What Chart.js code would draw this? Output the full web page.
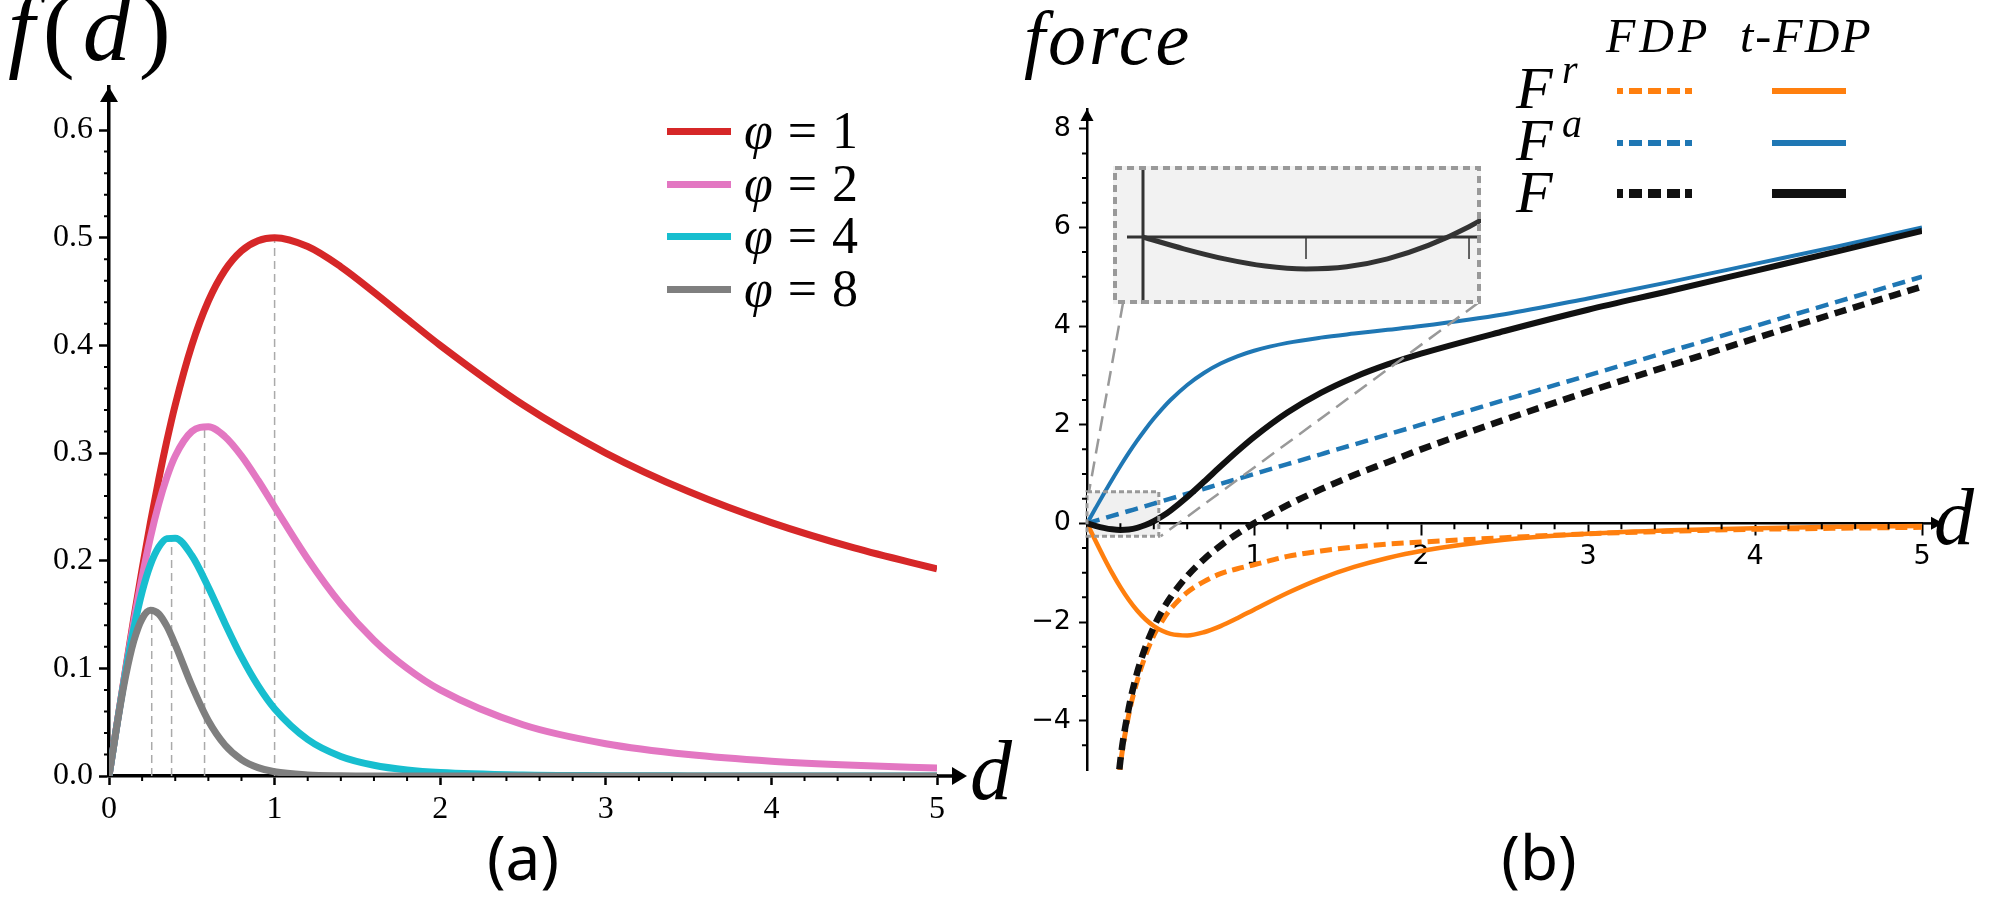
<!DOCTYPE html>
<html>
<head>
<meta charset="utf-8">
<script src="https://cdn.jsdelivr.net/npm/chart.js@4.4.1/dist/chart.umd.min.js"></script>
<style>
  html, body { margin: 0; padding: 0; background: #fff; }
  body { position: relative; width: 2011px; height: 902px; overflow: hidden; }
  canvas { position: absolute; }
  .txt { position: absolute; white-space: nowrap; line-height: 1; color: #000; }
  .serif { font-family: "Liberation Serif", "DejaVu Serif", serif; }
  .sans { font-family: "Noto Sans", "DejaVu Sans", sans-serif; }
  .sw { position: absolute; }
</style>
</head>
<body>
<canvas id="chartA" width="1000" height="902" style="left:0;top:0"></canvas>
<canvas id="chartB" width="1011" height="902" style="left:1000px;top:0"></canvas>
<canvas id="inset" width="368" height="138" style="left:1113px;top:166px"></canvas>

<!-- panel (a) text -->
<div class="txt serif" style="left:8px;top:-20px;font-size:96px;letter-spacing:8px"><i>f</i>(<i>d</i>)</div>
<div class="txt serif" style="left:970px;top:729px;font-size:84px"><i>d</i></div>
<div class="sw" style="left:667px;top:128px;width:64px;height:7px;background:#d62728"></div>
<div class="sw" style="left:667px;top:181px;width:64px;height:7px;background:#e377c2"></div>
<div class="sw" style="left:667px;top:233px;width:64px;height:7px;background:#17becf"></div>
<div class="sw" style="left:667px;top:286px;width:64px;height:7px;background:#7f7f7f"></div>
<div class="txt serif" style="left:744px;top:105px;font-size:52px;word-spacing:2px"><i>φ</i> = 1</div>
<div class="txt serif" style="left:744px;top:158px;font-size:52px;word-spacing:2px"><i>φ</i> = 2</div>
<div class="txt serif" style="left:744px;top:210px;font-size:52px;word-spacing:2px"><i>φ</i> = 4</div>
<div class="txt serif" style="left:744px;top:263px;font-size:52px;word-spacing:2px"><i>φ</i> = 8</div>
<div class="txt sans" style="left:523px;top:825px;font-size:62px;transform:translateX(-50%)">(a)</div>

<!-- panel (b) text -->
<div class="txt serif" style="left:1024px;top:0px;font-size:76px;letter-spacing:3px"><i>force</i></div>
<div class="txt serif" style="left:1934px;top:477px;font-size:80px"><i>d</i></div>
<div class="txt serif" style="left:1606px;top:12px;font-size:48px;letter-spacing:4px"><i>FDP</i></div>
<div class="txt serif" style="left:1740px;top:12px;font-size:48px;letter-spacing:2px"><i>t</i>-<i>FDP</i></div>
<div class="txt serif" style="left:1516px;top:58px;font-size:60px"><i>F</i></div>
<div class="txt serif" style="left:1562px;top:50px;font-size:40px"><i>r</i></div>
<div class="txt serif" style="left:1516px;top:110px;font-size:60px"><i>F</i></div>
<div class="txt serif" style="left:1562px;top:104px;font-size:40px"><i>a</i></div>
<div class="txt serif" style="left:1516px;top:162px;font-size:60px"><i>F</i></div>
<div class="sw" style="left:1617px;top:88px;width:75px;height:6px;background:repeating-linear-gradient(90deg,#ff7f0e 0 13px,transparent 13px 19px);background-position:-7px 0"></div>
<div class="sw" style="left:1617px;top:140px;width:75px;height:6px;background:repeating-linear-gradient(90deg,#1f77b4 0 13px,transparent 13px 19px);background-position:-7px 0"></div>
<div class="sw" style="left:1617px;top:189px;width:75px;height:9px;background:repeating-linear-gradient(90deg,#111 0 13px,transparent 13px 19px);background-position:-7px 0"></div>
<div class="sw" style="left:1772px;top:88px;width:74px;height:6px;background:#ff7f0e"></div>
<div class="sw" style="left:1772px;top:140px;width:74px;height:6px;background:#1f77b4"></div>
<div class="sw" style="left:1772px;top:189px;width:74px;height:9px;background:#111"></div>
<div class="txt sans" style="left:1539px;top:825px;font-size:62px;transform:translateX(-50%)">(b)</div>

<script>
// ---- panel (a): f(d) for several phi ----
const dA = [0, 0.05, 0.1, 0.15, 0.2, 0.25, 0.3, 0.35, 0.4, 0.5, 0.6, 0.7, 0.8, 0.9, 1.0,
  1.2, 1.4, 1.6, 1.8, 2.0, 2.5, 3.0, 3.5, 4.0, 4.5, 5.0];
const phi1 = [0, 0.0499, 0.0990, 0.1467, 0.1923, 0.2353, 0.2752, 0.3118, 0.3448, 0.4, 0.4412, 0.4698, 0.4878, 0.4972, 0.5,
  0.4918, 0.4730, 0.4494, 0.4245, 0.4, 0.3448, 0.3, 0.2642, 0.2353, 0.2118, 0.1923];
const phi2 = [0, 0.0498, 0.0980, 0.1435, 0.1849, 0.2215, 0.2525, 0.2778, 0.2973, 0.32, 0.3244, 0.3153, 0.2974, 0.2747, 0.25,
  0.2016, 0.1598, 0.1262, 0.1001, 0.08, 0.0476, 0.03, 0.0199, 0.0138, 0.0100, 0.0074];
const phi4 = [0, 0.0495, 0.0961, 0.1372, 0.1710, 0.1962, 0.2125, 0.2205, 0.2209, 0.2048, 0.1754, 0.1420, 0.1106, 0.0839, 0.0625,
  0.0339, 0.0182, 0.0100, 0.0056, 0.0032, 0.0009, 0.0003, 0.0001, 0, 0, 0];
const phi8 = [0, 0.0490, 0.0923, 0.1255, 0.1461, 0.1539, 0.1506, 0.1389, 0.1220, 0.0839, 0.0513, 0.0288, 0.0153, 0.0078, 0.0039,
  0.0010, 0.0002, 0, 0, 0, 0, 0, 0, 0, 0, 0];
const peakD = [1.0, 0.577, 0.378, 0.258];
const peakF = [0.5, 0.325, 0.222, 0.154];
const xTicksA = [0, 1, 2, 3, 4, 5];
const yTicksA = [0, 0.1, 0.2, 0.3, 0.4, 0.5, 0.6];

// ---- panel (b): forces ----
const dB = [0, 0.05, 0.1, 0.15, 0.2, 0.25, 0.3, 0.35, 0.4, 0.45, 0.5, 0.6, 0.7, 0.8, 0.9, 1.0,
  1.2, 1.4, 1.6, 1.8, 2.0, 2.5, 3.0, 3.5, 4.0, 4.5, 5.0];
// t-FDP
const attrT = [0, 0.299, 0.595, 0.884, 1.162, 1.427, 1.676, 1.909, 2.124, 2.321, 2.5, 2.806, 3.049, 3.239, 3.386, 3.5,
  3.659, 3.765, 3.847, 3.923, 4.0, 4.24, 4.56, 4.9, 5.26, 5.62, 6.0];
const repT = [0, -0.348, -0.686, -1.004, -1.294, -1.550, -1.768, -1.944, -2.081, -2.178, -2.24, -2.271, -2.207, -2.082, -1.923, -1.75,
  -1.411, -1.119, -0.884, -0.701, -0.56, -0.333, -0.21, -0.14, -0.097, -0.07, -0.052];
const totT = [0, -0.049, -0.091, -0.121, -0.133, -0.124, -0.091, -0.035, 0.043, 0.143, 0.26, 0.535, 0.842, 1.157, 1.463, 1.75,
  2.248, 2.646, 2.964, 3.222, 3.44, 3.9, 4.33, 4.72, 5.12, 5.52, 5.93];
// FDP
const attrF = [0, 0.05, 0.1, 0.15, 0.2, 0.25, 0.3, 0.35, 0.4, 0.45, 0.5, 0.6, 0.7, 0.8, 0.9, 1.0,
  1.2, 1.4, 1.6, 1.8, 2.0, 2.5, 3.0, 3.5, 4.0, 4.5, 5.0];
const repF = [null, null, null, -6.6, -4.9, -3.88, -3.2, -2.68, -2.27, -1.98, -1.74, -1.4, -1.18, -1.02, -0.92, -0.84,
  -0.67, -0.56, -0.48, -0.42, -0.38, -0.29, -0.21, -0.16, -0.12, -0.1, -0.08];
const totF = [null, null, null, -6.52, -4.8, -3.75, -3.03, -2.51, -2.1, -1.77, -1.5, -1.07, -0.73, -0.45, -0.21, 0,
  0.37, 0.69, 0.98, 1.24, 1.5, 2.1, 2.67, 3.21, 3.75, 4.28, 4.8];
const xTicksB = [1, 2, 3, 4, 5];
const yTicksB = [-4, -2, 0, 2, 4, 6, 8];
const zoomBox = { x0: 0, x1: 0.43, y0: -0.26, y1: 0.64 };
const insetTicks = [0.2, 0.4];
const insetPos = { left: 1113, top: 166, width: 368, height: 138 };
const offB = 1000;

const serifFont = "'Liberation Serif', 'Times New Roman', serif";
const sansFont = "'DejaVu Sans', sans-serif";

const pts = (xs, ys) => xs.map((x, i) => ({ x, y: ys[i] }));

function peakLines() {
  const out = [];
  peakD.forEach((d, i) => { out.push({ x: d, y: 0 }, { x: d, y: peakF[i] }, { x: d, y: null }); });
  return out;
}

function arrow(ctx, x, y, dir, len, wid) {
  ctx.beginPath();
  if (dir === 'up') {
    ctx.moveTo(x, y); ctx.lineTo(x - wid / 2, y + len); ctx.lineTo(x + wid / 2, y + len);
  } else {
    ctx.moveTo(x, y); ctx.lineTo(x - len, y - wid / 2); ctx.lineTo(x - len, y + wid / 2);
  }
  ctx.closePath();
  ctx.fill();
}

const fixTicks = arr => s => { s.ticks = arr.map(v => ({ value: v })); };

const axesA = {
  id: 'axesA',
  afterDraw(chart) {
    const { ctx, chartArea: a, scales: { x, y } } = chart;
    ctx.save();
    ctx.strokeStyle = '#000';
    ctx.fillStyle = '#000';
    ctx.lineWidth = 2;
    ctx.beginPath();
    for (let k = 1; k < 30; k++) {
      if (k % 5 === 0) continue;
      const py = y.getPixelForValue(k * 0.02);
      ctx.moveTo(a.left - 5, py); ctx.lineTo(a.left, py);
    }
    for (let k = 1; k < 25; k++) {
      if (k % 5 === 0) continue;
      const px = x.getPixelForValue(k * 0.2);
      ctx.moveTo(px, a.bottom); ctx.lineTo(px, a.bottom + 5);
    }
    ctx.stroke();
    ctx.lineWidth = 3.5;
    ctx.beginPath();
    ctx.moveTo(a.right, a.bottom); ctx.lineTo(a.right + 18, a.bottom);
    ctx.stroke();
    arrow(ctx, a.right + 30, a.bottom, 'right', 15, 18);
    arrow(ctx, a.left, a.top, 'up', 15, 18);
    ctx.restore();
  }
};

const axesB = {
  id: 'axesB',
  beforeDatasetsDraw(chart) {
    const { ctx, scales: { x, y } } = chart;
    const l = x.getPixelForValue(zoomBox.x0), r = x.getPixelForValue(zoomBox.x1);
    const t = y.getPixelForValue(zoomBox.y1), b = y.getPixelForValue(zoomBox.y0);
    ctx.save();
    ctx.fillStyle = '#f0f0f0';
    ctx.fillRect(l, t, r - l, b - t);
    ctx.restore();
  },
  afterDatasetsDraw(chart) {
    const { ctx, scales: { x, y } } = chart;
    const l = x.getPixelForValue(zoomBox.x0), r = x.getPixelForValue(zoomBox.x1);
    const t = y.getPixelForValue(zoomBox.y1), b = y.getPixelForValue(zoomBox.y0);
    ctx.save();
    ctx.strokeStyle = '#999';
    ctx.lineWidth = 3;
    ctx.setLineDash([5, 3]);
    ctx.strokeRect(l, t, r - l, b - t);
    // connectors to the inset
    const ib = insetPos.top + insetPos.height - 1;
    ctx.lineWidth = 2.5;
    ctx.setLineDash([15, 8]);
    ctx.beginPath();
    ctx.moveTo(insetPos.left + 10 - offB, ib); ctx.lineTo(l + 2, t);
    ctx.moveTo(insetPos.left + insetPos.width - 3 - offB, ib); ctx.lineTo(r + 2, b);
    ctx.stroke();
    ctx.restore();
  },
  afterDraw(chart) {
    const { ctx, chartArea: a, scales: { x, y } } = chart;
    const y0 = y.getPixelForValue(0);
    ctx.save();
    ctx.strokeStyle = '#000';
    ctx.fillStyle = '#000';
    ctx.lineWidth = 2;
    ctx.beginPath();
    for (let k = -9; k < 17; k++) {
      if (k % 4 === 0) continue;
      const py = y.getPixelForValue(k * 0.5);
      ctx.moveTo(a.left - 5, py); ctx.lineTo(a.left, py);
    }
    for (let k = 1; k < 25; k++) {
      if (k % 5 === 0) continue;
      const px = x.getPixelForValue(k * 0.2);
      ctx.moveTo(px, y0); ctx.lineTo(px, y0 + 6);
    }
    ctx.stroke();
    ctx.lineWidth = 2.5;
    ctx.beginPath();
    ctx.moveTo(a.right, y0); ctx.lineTo(a.right + 12, y0);
    ctx.stroke();
    arrow(ctx, a.right + 21, y0, 'right', 12, 13);
    arrow(ctx, a.left, a.top, 'up', 12, 13);
    ctx.restore();
  }
};

const insetDeco = {
  id: 'insetDeco',
  beforeDraw(chart) {
    const { ctx, width, height } = chart;
    ctx.save();
    ctx.fillStyle = '#f2f2f2';
    ctx.fillRect(0, 0, width, height);
    ctx.restore();
  },
  beforeDatasetsDraw(chart) {
    const { ctx, width, height, scales: { x, y } } = chart;
    const px0 = x.getPixelForValue(0), py0 = y.getPixelForValue(0);
    ctx.save();
    ctx.strokeStyle = '#333';
    ctx.lineWidth = 3;
    ctx.beginPath();
    ctx.moveTo(px0, 0); ctx.lineTo(px0, height);
    ctx.moveTo(px0 - 16, py0); ctx.lineTo(width, py0);
    ctx.stroke();
    ctx.lineWidth = 1.5;
    ctx.beginPath();
    insetTicks.forEach(v => {
      const px = x.getPixelForValue(v);
      ctx.moveTo(px, py0); ctx.lineTo(px, py0 + 22);
    });
    ctx.stroke();
    ctx.restore();
  },
  afterDraw(chart) {
    const { ctx, width, height } = chart;
    ctx.save();
    ctx.strokeStyle = '#999';
    ctx.lineWidth = 4;
    ctx.setLineDash([7, 5]);
    ctx.strokeRect(2, 2, width - 4, height - 4);
    ctx.restore();
  }
};

const common = {
  responsive: false,
  animation: false,
  events: [],
  plugins: { legend: { display: false }, tooltip: { enabled: false } },
  elements: {
    point: { radius: 0 },
    line: { fill: false, cubicInterpolationMode: 'monotone', borderCapStyle: 'butt', borderJoinStyle: 'round' }
  }
};

new Chart(document.getElementById('chartA'), {
  type: 'line',
  data: {
    datasets: [
      { data: pts(dA, phi8), borderColor: '#7f7f7f', borderWidth: 7 },
      { data: pts(dA, phi4), borderColor: '#17becf', borderWidth: 7 },
      { data: pts(dA, phi2), borderColor: '#e377c2', borderWidth: 7 },
      { data: pts(dA, phi1), borderColor: '#d62728', borderWidth: 7 },
      { data: peakLines(), borderColor: '#aaaaaa', borderWidth: 1.5, borderDash: [8, 5],
        cubicInterpolationMode: 'default', tension: 0, spanGaps: false }
    ]
  },
  options: {
    ...common,
    layout: { padding: { left: 49, right: 63, top: 87, bottom: 76 } },
    scales: {
      x: {
        type: 'linear', min: 0, max: 5,
        afterFit: s => { s.height = 50; },
        afterBuildTicks: fixTicks(xTicksA),
        border: { display: true, color: '#000', width: 3.5 },
        grid: { drawOnChartArea: false, drawTicks: true, tickLength: 9, tickWidth: 2.5, color: '#000' },
        ticks: { color: '#000', font: { family: serifFont, size: 32 }, padding: 5, maxRotation: 0, autoSkip: false }
      },
      y: {
        type: 'linear', min: 0, max: 0.64,
        afterFit: s => { s.width = 60; },
        afterBuildTicks: fixTicks(yTicksA),
        border: { display: true, color: '#000', width: 3.5 },
        grid: { drawOnChartArea: false, drawTicks: true, tickLength: 10, tickWidth: 2.5, color: '#000' },
        ticks: { color: '#000', font: { family: serifFont, size: 32 }, padding: 6, autoSkip: false,
          callback: v => v.toFixed(1) }
      }
    }
  },
  plugins: [axesA]
});

const minus = v => (v < 0 ? '\u2212' + Math.abs(v) : String(v));

new Chart(document.getElementById('chartB'), {
  type: 'line',
  data: {
    datasets: [
      { data: pts(dB, totT), borderColor: '#111', borderWidth: 6 },
      { data: pts(dB, attrT), borderColor: '#1f77b4', borderWidth: 4 },
      { data: pts(dB, totF), borderColor: '#111', borderWidth: 6.5, borderDash: [12, 7] },
      { data: pts(dB, repF), borderColor: '#ff7f0e', borderWidth: 5, borderDash: [12, 6] },
      { data: pts(dB, attrF), borderColor: '#1f77b4', borderWidth: 4.5, borderDash: [13, 7] },
      { data: pts(dB, repT), borderColor: '#ff7f0e', borderWidth: 4.5 }
    ]
  },
  options: {
    ...common,
    layout: { padding: { left: 27, right: 89, top: 109, bottom: 132 } },
    scales: {
      x: {
        type: 'linear', min: 0, max: 5, position: { y: 0 },
        afterBuildTicks: fixTicks(xTicksB),
        border: { display: true, color: '#000', width: 2.5 },
        grid: { drawOnChartArea: false, drawTicks: true, tickLength: 11, tickWidth: 2, color: '#000' },
        ticks: { color: '#000', font: { family: sansFont, size: 27 }, padding: 6, maxRotation: 0, autoSkip: false }
      },
      y: {
        type: 'linear', min: -5, max: 8.4,
        afterFit: s => { s.width = 60; },
        afterBuildTicks: fixTicks(yTicksB),
        border: { display: true, color: '#000', width: 2.5 },
        grid: { drawOnChartArea: false, drawTicks: true, tickLength: 8, tickWidth: 2, color: '#000' },
        ticks: { color: '#000', font: { family: sansFont, size: 27 }, padding: 8, autoSkip: false, callback: minus }
      }
    }
  },
  plugins: [axesB]
});

new Chart(document.getElementById('inset'), {
  type: 'line',
  data: { datasets: [{ data: pts(dB, totT), borderColor: '#333', borderWidth: 5 }] },
  options: {
    ...common,
    layout: { padding: 0 },
    scales: {
      x: { type: 'linear', display: false, min: -0.0368, max: 0.4147 },
      y: { type: 'linear', display: false, min: -0.279, max: 0.296 }
    }
  },
  plugins: [insetDeco]
});
</script>
</body>
</html>
